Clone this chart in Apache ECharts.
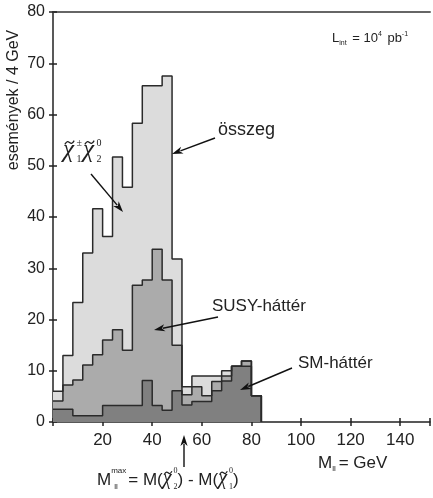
<!DOCTYPE html>
<html>
<head>
<meta charset="utf-8">
<script src="https://cdn.jsdelivr.net/npm/echarts@6/dist/echarts.min.js"></script>
<style>html,body{margin:0;padding:0;background:#fff}#c{width:433px;height:498px}</style>
</head>
<body>
<div id="c"></div>
<script>
// bin lower edges (GeV), bin width 4 GeV
const binLow = [0,4,8,12,16,20,24,28,32,36,40,44,48,52,56,60,64,68,72,76,80];
const binWidth = 4;
// cumulative levels
const total  = [6, 13, 23.3, 33, 41.6, 36.2, 51.7, 45.8, 58.3, 65.6, 65.6, 67.5, 31.8, 6.9, 9, 9, 9, 10, 10.9, 11.9, 5.1];
const smSusy = [4.1, 7.2, 8.2, 11.1, 13.1, 16.0, 18.0, 14.0, 26.7, 27.7, 33.7, 27.7, 15.0, 5.3, 6.9, 5.1, 7.9, 9.0, 10.9, 11.9, 5.1];
const sm     = [2.5, 2.5, 1.2, 1.2, 1.2, 3.2, 3.2, 3.2, 3.2, 8.1, 3.2, 2.3, 6.1, 3.3, 4.0, 4.0, 6.1, 8.0, 10.9, 10.9, 5.1];
const xTicks = [20,40,60,80,100,120,140];
const yTicks = [0,10,20,30,40,50,60,70,80];

function stepData(vals){
  const d = binLow.map((x,i)=>[x, vals[i]]);
  d.push([binLow[binLow.length-1]+binWidth, 0]);
  return d;
}
const FONT = 'Liberation Sans, Arial, sans-serif';
const SERIF = 'Liberation Serif, DejaVu Serif, serif';
const TXT = '#222';
const mctx = document.createElement('canvas').getContext('2d');
function fontStr(fs, ff, it){ return (it?'italic ':'') + fs+'px '+ff; }
function tw(t, font){ mctx.font = font; return mctx.measureText(t).width; }
function txt(x, base, t, fs, ff, align, it){
  return {type:'text', x:x, y:base - 0.35*fs, z:100,
    style:{text:t, font:fontStr(fs,ff,it), fill:TXT, verticalAlign:'middle', align:align||'left'}};
}
function tildeMark(cx, cy, w){
  const h = w*0.2;
  return {type:'bezierCurve', z:101, silent:true,
    shape:{x1:cx-w/2, y1:cy+h, x2:cx+w/2, y2:cy-h, cpx1:cx-w*0.05, cpy1:cy-h*3.2, cpx2:cx+w*0.05, cpy2:cy+h*3.2},
    style:{stroke:'#222', lineWidth:1.3, fill:'none'}};
}
// lay out a formula: parts = {t,fs,ff,dy,tilde,it} or {stack:[sup,sub]}
function formula(x0, base, parts){
  let x = x0; const out = [];
  parts.forEach(p => {
    if (p.stack){
      let w = 0;
      p.stack.forEach(q => {
        const ff = q.ff || FONT;
        out.push(txt(x + (q.dx||0), base + q.dy, q.t, q.fs, ff));
        w = Math.max(w, tw(q.t, fontStr(q.fs, ff)) + (q.dx||0));
      });
      x += w + (p.gap||0);
    } else {
      const ff = p.ff || FONT;
      const w = tw(p.t, fontStr(p.fs, ff, p.it));
      out.push(txt(x, base + (p.dy||0), p.t, p.fs, ff, 'left', p.it));
      if (p.tilde){
        out.push(tildeMark(x + w/2 + 1, base - p.fs*0.66, w*0.85));
      }
      x += w + (p.gap||0);
    }
  });
  return out;
}
function arrow(x1,y1,x2,y2){
  const dx=x2-x1, dy=y2-y1, L=Math.hypot(dx,dy), ux=dx/L, uy=dy/L;
  const hl=11, hw=3.6;
  const bx=x2-ux*hl, by=y2-uy*hl;
  return [
    {type:'line', shape:{x1:x1,y1:y1,x2:bx+ux*2,y2:by+uy*2}, style:{stroke:'#111',lineWidth:1.4}, z:100},
    {type:'polygon', shape:{points:[[x2,y2],[bx-uy*hw,by+ux*hw],[bx+ux*3,by+uy*3],[bx+uy*hw,by-ux*hw]]}, style:{fill:'#111'}, z:100}
  ];
}
const chart = echarts.init(document.getElementById('c'), null, {renderer:'canvas'});
const axisTxt = {fontSize:17, color:TXT, fontFamily:FONT};
const lineSeries = (name, vals, color) => ({
  name, type:'line', step:'end', data:stepData(vals), symbol:'none',
  lineStyle:{color:'#2a2a2a', width:1.5}, areaStyle:{color:color, opacity:1},
  xAxisIndex:0, yAxisIndex:0, animation:false, silent:true
});
const chiLabel = formula(63, 159, [
  {t:'χ', fs:25, ff:SERIF, it:true, tilde:true, gap:2.5},
  {stack:[{t:'±', fs:10, ff:SERIF, dy:-12}, {t:'1', fs:10, ff:SERIF, dy:4}], gap:1},
  {t:'χ', fs:25, ff:SERIF, it:true, tilde:true, gap:2.5},
  {stack:[{t:'0', fs:10, ff:SERIF, dy:-12}, {t:'2', fs:10, ff:SERIF, dy:4}]}
]);
const bottomFormula = formula(97, 486, [
  {t:'M', fs:17},
  {stack:[{t:'max', fs:8, dy:-12}, {t:'ll', fs:8, dy:4, dx:3}], gap:2},
  {t:'= M(', fs:17},
  {t:'χ', fs:20, ff:SERIF, it:true, tilde:true, gap:2},
  {stack:[{t:'0', fs:8, ff:SERIF, dy:-12}, {t:'2', fs:8, ff:SERIF, dy:4}]},
  {t:') - M(', fs:17},
  {t:'χ', fs:20, ff:SERIF, it:true, tilde:true, gap:2},
  {stack:[{t:'0', fs:8, ff:SERIF, dy:-12}, {t:'1', fs:8, ff:SERIF, dy:4}]},
  {t:')', fs:17}
]);
const lintLabel = formula(332, 43, [
  {t:'L', fs:13},
  {stack:[{t:'int', fs:7, dy:3}], gap:2},
  {t:' = 10', fs:13},
  {stack:[{t:'4', fs:7, dy:-6}], gap:2},
  {t:' pb', fs:13},
  {stack:[{t:'-1', fs:7, dy:-6}]}
]);
const xName = formula(318, 469, [
  {t:'M', fs:17},
  {stack:[{t:'ll', fs:8, dy:3}], gap:3},
  {t:'= GeV', fs:17}
]);
chart.setOption({
  animation:false,
  grid:{left:53, right:0, top:12, bottom:76, containLabel:false},
  xAxis:[
    {type:'value', min:0, max:152, interval:20, position:'bottom',
     axisLine:{lineStyle:{color:'#222', width:1.5}},
     axisTick:{length:4, lineStyle:{color:'#222', width:1.5}},
     axisLabel:Object.assign({margin:10, formatter:v=>xTicks.includes(v)?String(v):''}, axisTxt),
     splitLine:{show:false}},
    {type:'value', min:0, max:152, interval:20, position:'bottom',
     axisLine:{show:false}, axisTick:{inside:true, length:4, lineStyle:{color:'#222', width:1.5}},
     axisLabel:{show:false}, splitLine:{show:false}},
    {type:'value', min:0, max:152, position:'top',
     axisLine:{lineStyle:{color:'#666', width:2}}, axisTick:{show:false}, axisLabel:{show:false}, splitLine:{show:false}}
  ],
  yAxis:[
    {type:'value', min:0, max:80, interval:10,
     axisLine:{show:true, lineStyle:{color:'#222', width:1.5}},
     axisTick:{show:true, length:4, lineStyle:{color:'#222', width:1.5}},
     axisLabel:Object.assign({margin:8, formatter:v=>yTicks.includes(v)?String(v):''}, axisTxt, {fontSize:16}),
     splitLine:{show:false}},
    {type:'value', min:0, max:80, interval:10, position:'left',
     axisLine:{show:false}, axisTick:{show:true, inside:true, length:4, lineStyle:{color:'#222', width:1.5}},
     axisLabel:{show:false}, splitLine:{show:false}}
  ],
  series:[
    lineSeries('összeg', total, '#dcdcdc'),
    lineSeries('SUSY-háttér', smSusy, '#ababab'),
    lineSeries('SM-háttér', sm, '#808080')
  ],
  graphic:[
    {type:'text', x:14, y:100, rotation:Math.PI/2, style:{text:'események / 4 GeV', font:'16px '+FONT, fill:TXT, align:'center', verticalAlign:'middle'}},
    {type:'text', x:218, y:130, style:{text:'összeg', font:'18px '+FONT, fill:TXT, verticalAlign:'middle'}},
    {type:'text', x:212, y:306, style:{text:'SUSY-háttér', font:'17px '+FONT, fill:TXT, verticalAlign:'middle'}},
    {type:'text', x:298, y:363, style:{text:'SM-háttér', font:'17px '+FONT, fill:TXT, verticalAlign:'middle'}},
    ...chiLabel, ...bottomFormula, ...lintLabel, ...xName,
    ...arrow(215,138,172,154),
    ...arrow(91,174,123,212),
    ...arrow(218,317,154,330),
    ...arrow(292,368,240,390),
    ...arrow(184,467,184,435)
  ]
});
</script>
</body>
</html>
